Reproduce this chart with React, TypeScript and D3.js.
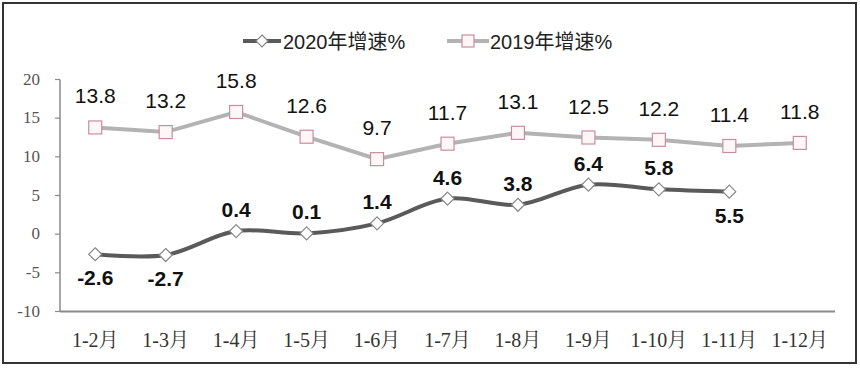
import React from "react";
import * as d3 from "d3";

const categories = ["1-2月", "1-3月", "1-4月", "1-5月", "1-6月", "1-7月", "1-8月", "1-9月", "1-10月", "1-11月", "1-12月"];
const growth2020 = [-2.6, -2.7, 0.4, 0.1, 1.4, 4.6, 3.8, 6.4, 5.8, 5.5];
const labelSide2020 = ["below", "below", "above", "above", "above", "above", "above", "above", "above", "below"];
const growth2019 = [13.8, 13.2, 15.8, 12.6, 9.7, 11.7, 13.1, 12.5, 12.2, 11.4, 11.8];
const yTicks = [-10, -5, 0, 5, 10, 15, 20];
const seriesNames = ["2020年增速%", "2019年增速%"];

const W = 860, H = 370;
const left = 60, right = 835, top = 79.5, bottom = 311.5;

export default function App() {
  const x = d3.scalePoint<string>().domain(categories).range([left, right]).padding(0.5);
  const y = d3.scaleLinear().domain([-10, 20]).range([bottom, top]);

  const line2020 = d3.line<number>()
    .x((_, i) => x(categories[i])!)
    .y((d) => y(d))
    .curve(d3.curveCatmullRom.alpha(0.5));
  const line2019 = d3.line<number>()
    .x((_, i) => x(categories[i])!)
    .y((d) => y(d));

  const c2020 = "#5a5a5a";
  const c2019 = "#b3b3b3";
  const sqStroke = "#c98e9d";
  const sqFill = "#fff6f8";
  const sans = "'Liberation Sans', Arial, 'Noto Sans CJK SC', sans-serif";
  const serif = "'Liberation Serif', 'Noto Serif CJK SC', 'Noto Sans CJK SC', serif";

  const diamond = (cx: number, cy: number, r = 6.5) =>
    `M${cx},${cy - r}L${cx + r},${cy}L${cx},${cy + r}L${cx - r},${cy}Z`;

  return (
    <div style={{ position: "absolute", left: 0, top: 0 }}>
      <svg width={W} height={H} style={{ display: "block", background: "#fff" }}>
        <rect x={3} y={3} width={853} height={360} fill="#fff" stroke="#333" strokeWidth={2} />

        {/* Legend */}
        <g>
          <line x1={243} x2={281} y1={41} y2={41} stroke={c2020} strokeWidth={4} />
          <path d={diamond(262, 41, 6)} fill="#fff" stroke="#888" strokeWidth={1.2} />
          <text x={283} y={48.5} fontFamily={sans} fontSize={20} fill="#222">{seriesNames[0]}</text>
          <line x1={447} x2={489} y1={41} y2={41} stroke={c2019} strokeWidth={4} />
          <rect x={462} y={35} width={12} height={12} fill={sqFill} stroke={sqStroke} strokeWidth={1.2} />
          <text x={490} y={48.5} fontFamily={sans} fontSize={20} fill="#222">{seriesNames[1]}</text>
        </g>

        {/* Axes */}
        <line x1={left} x2={left} y1={top} y2={bottom} stroke="#8a8a8a" strokeWidth={1.5} />
        <line x1={left} x2={right} y1={bottom} y2={bottom} stroke="#8a8a8a" strokeWidth={2} />
        {yTicks.map((t) => (
          <g key={t}>
            <line x1={left - 5} x2={left} y1={y(t)} y2={y(t)} stroke="#8a8a8a" strokeWidth={1.2} />
            <text x={40} y={y(t) + 5} textAnchor="end" fontFamily={serif} fontSize={17} fill="#555">{t}</text>
          </g>
        ))}
        {categories.map((c) => (
          <text key={c} x={x(c)!} y={347} textAnchor="middle" fontFamily={serif} fontSize={20} fill="#333">{c}</text>
        ))}

        {/* 2019 series */}
        <path d={line2019(growth2019)!} fill="none" stroke={c2019} strokeWidth={4} />
        {growth2019.map((v, i) => (
          <g key={i}>
            <rect x={x(categories[i])! - 6.5} y={y(v) - 6.5} width={13} height={13} fill={sqFill} stroke={sqStroke} strokeWidth={1.2} />
            <text x={x(categories[i])!} y={y(v) - 24} textAnchor="middle" fontFamily={sans} fontSize={21} fill="#111">{v.toFixed(1)}</text>
          </g>
        ))}

        {/* 2020 series */}
        <path d={line2020(growth2020)!} fill="none" stroke={c2020} strokeWidth={4} />
        {growth2020.map((v, i) => (
          <g key={i}>
            <path d={diamond(x(categories[i])!, y(v))} fill="#fff" stroke="#888" strokeWidth={1.2} />
            <text
              x={x(categories[i])!}
              y={labelSide2020[i] === "above" ? y(v) - 14 : y(v) + 31}
              textAnchor="middle"
              fontFamily={sans}
              fontWeight="bold"
              fontSize={21}
              fill="#111"
            >
              {v.toFixed(1)}
            </text>
          </g>
        ))}
      </svg>
    </div>
  );
}
